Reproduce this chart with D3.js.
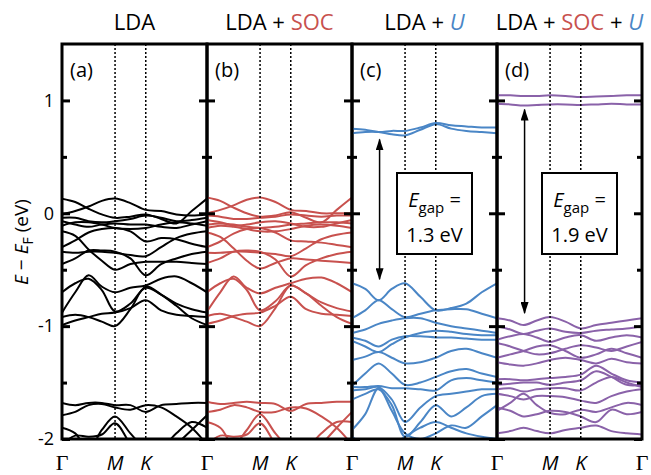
<!DOCTYPE html>
<html>
<head>
<meta charset="utf-8">
<script src="https://cdn.jsdelivr.net/npm/d3@7"></script>
<style>
body { margin: 0; background: #fff; }
text { font-family: "Open Sans", sans-serif; fill: #000; }
</style>
</head>
<body>
<div id="chart"></div>
<script>
// k-path Γ - M - K - Γ (hexagonal BZ, distances in 2π/a)
var kPoints = [0, 0.144, 0.289, 0.433, 0.577, 0.744, 0.911, 1.078, 1.244, 1.411, 1.577];
var kTicks = [0, 0.577, 0.911, 1.577];
var kLabels = ["Γ", "M", "K", "Γ"];
var yTicks = [-2, -1, 0, 1];
var yMinor = [-1.5, -0.5, 0.5];
var panelLetters = ["(a)", "(b)", "(c)", "(d)"];
var gapLabels = [null, null, "1.3 eV", "1.9 eV"];

// band energies (eV) at kPoints
var bandsLDA = [
    [0.13, 0.10, 0.04, -0.01, -0.04, -0.03, -0.01, -0.05, -0.09, 0.02, 0.13],
    [-0.01, 0.02, 0.06, 0.11, 0.13, 0.09, 0.03, 0.02, -0.01, -0.02, -0.01],
    [-0.04, -0.04, -0.07, -0.08, -0.07, -0.05, -0.02, -0.04, -0.07, -0.06, -0.04],
    [-0.07, -0.10, -0.12, -0.10, -0.09, -0.10, -0.10, -0.12, -0.13, -0.10, -0.07],
    [-0.11, -0.08, -0.08, -0.10, -0.13, -0.14, -0.13, -0.10, -0.08, -0.09, -0.11],
    [-0.30, -0.24, -0.17, -0.14, -0.13, -0.16, -0.25, -0.22, -0.23, -0.27, -0.30],
    [-0.16, -0.20, -0.32, -0.42, -0.50, -0.45, -0.43, -0.43, -0.43, -0.44, -0.45],
    [-0.45, -0.40, -0.33, -0.33, -0.34, -0.40, -0.55, -0.45, -0.40, -0.36, -0.34],
    [-0.34, -0.35, -0.34, -0.34, -0.35, -0.37, -0.38, -0.30, -0.22, -0.18, -0.16],
    [-0.88, -0.70, -0.55, -0.65, -0.70, -0.66, -0.64, -0.58, -0.56, -0.62, -0.70],
    [-0.70, -0.62, -0.58, -0.68, -0.87, -0.80, -0.66, -0.72, -0.80, -0.85, -0.88],
    [-0.92, -0.90, -0.92, -0.96, -1.00, -0.85, -0.65, -0.72, -0.82, -0.93, -0.99],
    [-0.99, -0.95, -0.92, -0.89, -0.88, -0.84, -0.77, -0.86, -0.90, -0.91, -0.92],
    [-1.68, -1.70, -1.68, -1.68, -1.70, -1.70, -1.76, -1.70, -1.69, -1.68, -1.68],
    [-1.79, -1.76, -1.70, -1.69, -1.72, -1.74, -1.70, -1.72, -1.80, -1.90, -2.05],
    [-1.90, -1.95, -2.10, -1.92, -1.80, -1.95, -2.10, -2.20, -2.05, -1.92, -1.79],
    [-2.05, -1.97, -1.98, -1.96, -1.86, -2.05, -2.25, -2.10, -1.95, -1.85, -1.90]
];

var bandsSOC = [
    [0.14, 0.11, 0.05, 0.00, -0.03, -0.02, 0.01, -0.04, -0.08, 0.03, 0.14],
    [0.00, 0.03, 0.07, 0.12, 0.14, 0.10, 0.03, 0.02, 0.00, 0.00, 0.00],
    [-0.02, -0.03, -0.05, -0.05, -0.04, -0.03, -0.01, -0.02, -0.03, -0.02, -0.02],
    [-0.06, -0.08, -0.11, -0.10, -0.08, -0.07, -0.09, -0.12, -0.12, -0.09, -0.06],
    [-0.10, -0.09, -0.10, -0.12, -0.13, -0.12, -0.10, -0.09, -0.08, -0.08, -0.09],
    [-0.13, -0.11, -0.12, -0.14, -0.16, -0.16, -0.14, -0.11, -0.10, -0.11, -0.13],
    [-0.30, -0.25, -0.18, -0.14, -0.13, -0.17, -0.24, -0.25, -0.26, -0.28, -0.30],
    [-0.17, -0.21, -0.31, -0.42, -0.49, -0.44, -0.40, -0.41, -0.42, -0.43, -0.44],
    [-0.44, -0.40, -0.34, -0.33, -0.34, -0.41, -0.56, -0.46, -0.40, -0.36, -0.34],
    [-0.35, -0.35, -0.34, -0.34, -0.35, -0.36, -0.38, -0.31, -0.23, -0.19, -0.17],
    [-0.87, -0.70, -0.56, -0.66, -0.71, -0.66, -0.62, -0.58, -0.57, -0.62, -0.70],
    [-0.70, -0.62, -0.58, -0.68, -0.86, -0.78, -0.64, -0.71, -0.79, -0.84, -0.87],
    [-0.91, -0.89, -0.92, -0.96, -1.00, -0.84, -0.64, -0.71, -0.82, -0.92, -0.98],
    [-0.98, -0.95, -0.91, -0.89, -0.88, -0.82, -0.74, -0.85, -0.89, -0.90, -0.91],
    [-1.67, -1.69, -1.68, -1.67, -1.68, -1.69, -1.75, -1.69, -1.68, -1.67, -1.67],
    [-1.76, -1.74, -1.70, -1.72, -1.76, -1.76, -1.72, -1.73, -1.80, -1.90, -2.05],
    [-1.85, -1.90, -2.05, -1.92, -1.78, -1.95, -2.10, -2.20, -2.05, -1.90, -1.76],
    [-2.05, -1.97, -1.98, -1.96, -1.86, -2.05, -2.25, -2.10, -1.95, -1.85, -1.85]
];

var bandsU = [
    [0.75, 0.74, 0.72, 0.73, 0.73, 0.76, 0.80, 0.78, 0.77, 0.76, 0.76],
    [0.71, 0.72, 0.72, 0.70, 0.69, 0.74, 0.79, 0.75, 0.73, 0.72, 0.71],
    [-0.62, -0.67, -0.77, -0.67, -0.62, -0.74, -0.86, -0.84, -0.80, -0.70, -0.62],
    [-0.93, -0.86, -0.77, -0.85, -0.92, -0.89, -0.86, -0.85, -0.85, -0.89, -0.93],
    [-1.06, -1.03, -0.98, -0.95, -0.93, -0.93, -0.97, -1.00, -1.02, -1.04, -1.06],
    [-1.10, -1.13, -1.18, -1.12, -1.09, -1.09, -1.10, -1.10, -1.11, -1.12, -1.12],
    [-1.13, -1.18, -1.23, -1.16, -1.10, -1.06, -1.04, -1.05, -1.07, -1.08, -1.08],
    [-1.30, -1.27, -1.23, -1.28, -1.33, -1.32, -1.28, -1.22, -1.20, -1.24, -1.28],
    [-1.53, -1.42, -1.33, -1.42, -1.52, -1.50, -1.45, -1.40, -1.38, -1.42, -1.45],
    [-1.54, -1.54, -1.53, -1.55, -1.55, -1.56, -1.57, -1.48, -1.46, -1.48, -1.50],
    [-1.57, -1.56, -1.54, -1.65, -1.85, -1.72, -1.62, -1.60, -1.58, -1.56, -1.56],
    [-1.65, -1.60, -1.56, -1.70, -1.98, -1.85, -1.70, -1.80, -1.72, -1.62, -1.60],
    [-1.92, -1.78, -1.55, -1.75, -1.95, -2.00, -1.95, -1.88, -1.90, -1.80, -1.70],
    [-1.98, -2.05, -2.10, -2.05, -1.98, -1.90, -1.85, -1.90, -1.95, -1.98, -2.00]
];

var bandsSOCU = [
    [1.045, 1.045, 1.04, 1.04, 1.045, 1.04, 1.03, 1.035, 1.04, 1.045, 1.045],
    [0.97, 0.965, 0.955, 0.96, 0.965, 0.965, 0.96, 0.965, 0.97, 0.965, 0.965],
    [-0.93, -0.95, -0.99, -0.95, -0.92, -0.96, -1.02, -0.99, -0.97, -0.95, -0.93],
    [-1.00, -1.03, -1.07, -1.04, -1.02, -1.05, -1.06, -1.04, -1.03, -1.02, -1.00],
    [-1.12, -1.09, -1.07, -1.10, -1.14, -1.10, -1.08, -1.13, -1.10, -1.08, -1.10],
    [-1.15, -1.18, -1.22, -1.25, -1.24, -1.20, -1.17, -1.19, -1.22, -1.18, -1.14],
    [-1.28, -1.25, -1.22, -1.18, -1.17, -1.22, -1.28, -1.25, -1.20, -1.24, -1.28],
    [-1.32, -1.34, -1.35, -1.33, -1.30, -1.28, -1.30, -1.33, -1.29, -1.32, -1.33],
    [-1.47, -1.47, -1.48, -1.47, -1.46, -1.45, -1.43, -1.35, -1.42, -1.48, -1.50],
    [-1.52, -1.51, -1.50, -1.50, -1.52, -1.50, -1.48, -1.40, -1.45, -1.52, -1.52],
    [-1.56, -1.55, -1.58, -1.56, -1.55, -1.55, -1.57, -1.50, -1.45, -1.50, -1.54],
    [-1.60, -1.62, -1.65, -1.62, -1.62, -1.63, -1.66, -1.68, -1.62, -1.58, -1.56],
    [-1.75, -1.68, -1.60, -1.70, -1.77, -1.78, -1.74, -1.76, -1.72, -1.68, -1.70],
    [-1.72, -1.75, -1.80, -1.78, -1.75, -1.76, -1.80, -1.85, -1.74, -1.78, -1.76],
    [-1.95, -1.93, -1.90, -1.93, -1.95, -1.92, -1.90, -1.88, -1.93, -1.95, -1.96]
];

var panels = [
    { bands: bandsLDA, color: "#000000", nCond: 0 },
    { bands: bandsSOC, color: "#c8514e", nCond: 0 },
    { bands: bandsU, color: "#4a86c6", nCond: 2 },
    { bands: bandsSOCU, color: "#8a62a9", nCond: 2 }
];

var width = 651, height = 475;
var plotLeft = 62, pw = 145, plotTop = 44, plotBottom = 439;
var red = "#c8514e", blue = "#4a86c6";

var svg = d3.select("#chart").append("svg")
    .attr("width", width)
    .attr("height", height);

var defs = svg.append("defs");
defs.append("marker")
    .attr("id", "head")
    .attr("viewBox", "0 0 12 8")
    .attr("refX", 11)
    .attr("refY", 4)
    .attr("markerWidth", 12)
    .attr("markerHeight", 8)
    .attr("markerUnits", "userSpaceOnUse")
    .attr("orient", "auto-start-reverse")
    .append("path")
    .attr("d", "M0,0 L12,4 L0,8 Z")
    .attr("fill", "#000");

var x = d3.scaleLinear().domain([0, 1.577]).range([0, pw]);
var y = d3.scaleLinear().domain([-2, 1.5]).range([plotBottom, plotTop]);

var line = d3.line()
    .x(function (d, i) { return x(kPoints[i]); })
    .y(function (d) { return y(d); })
    .curve(d3.curveCatmullRom.alpha(0.5));

panels.forEach(function (p, i) {
    var g = svg.append("g").attr("transform", "translate(" + (plotLeft + i * pw) + ",0)");

    defs.append("clipPath").attr("id", "clip" + i)
        .append("rect")
        .attr("x", 0).attr("y", plotTop)
        .attr("width", pw).attr("height", plotBottom - plotTop);

    // bands
    g.append("g").attr("clip-path", "url(#clip" + i + ")")
        .selectAll("path")
        .data(p.bands)
        .enter()
        .append("path")
        .attr("d", line)
        .attr("fill", "none")
        .attr("stroke", p.color)
        .attr("stroke-width", 2);

    // dotted lines at M and K
    g.selectAll(".hs")
        .data(kTicks.slice(1, 3))
        .enter()
        .append("line")
        .attr("x1", function (d) { return x(d); })
        .attr("x2", function (d) { return x(d); })
        .attr("y1", plotTop)
        .attr("y2", plotBottom)
        .attr("stroke", "#000")
        .attr("stroke-width", 1.5)
        .attr("stroke-dasharray", "2,2");

    // gap arrow + box
    if (p.nCond > 0) {
        var cbm = d3.min(p.bands.slice(0, p.nCond), function (b) { return d3.min(b); });
        var vbm = d3.max(p.bands.slice(p.nCond), function (b) { return d3.max(b); });
        var ax = x(kPoints[2]) + 1;
        g.append("line")
            .attr("x1", ax).attr("x2", ax)
            .attr("y1", y(cbm) + 4).attr("y2", y(vbm) - 4)
            .attr("stroke", "#000")
            .attr("stroke-width", 1.5)
            .attr("marker-start", "url(#head)")
            .attr("marker-end", "url(#head)");

        g.append("rect")
            .attr("x", 45).attr("y", 173)
            .attr("width", 75).attr("height", 81)
            .attr("fill", "#fff")
            .attr("stroke", "#000")
            .attr("stroke-width", 2);
        var t1 = g.append("text")
            .attr("x", 82.5).attr("y", 207)
            .attr("text-anchor", "middle")
            .style("font-size", "20px");
        t1.append("tspan").style("font-style", "italic").text("E");
        t1.append("tspan").attr("dy", 6).style("font-size", "15px").text("gap");
        t1.append("tspan").attr("dy", -6).text(" =");
        g.append("text")
            .attr("x", 82.5).attr("y", 242)
            .attr("text-anchor", "middle")
            .style("font-size", "20px")
            .text(gapLabels[i]);
    }

    // ticks, both sides, pointing inward
    var axL = g.append("g").call(d3.axisLeft(y).tickValues(yTicks).tickSize(-8).tickPadding(8)
        .tickFormat(i === 0 ? function (d) { return String(d); } : ""));
    var axLm = g.append("g").call(d3.axisLeft(y).tickValues(yMinor).tickSize(-5).tickFormat(""));
    var axR = g.append("g").attr("transform", "translate(" + pw + ",0)")
        .call(d3.axisRight(y).tickValues(yTicks).tickSize(-8).tickFormat(""));
    var axRm = g.append("g").attr("transform", "translate(" + pw + ",0)")
        .call(d3.axisRight(y).tickValues(yMinor).tickSize(-5).tickFormat(""));
    [axL, axLm, axR, axRm].forEach(function (a) {
        a.select(".domain").remove();
        a.selectAll(".tick line").attr("stroke", "#000").attr("stroke-width", 3);
        a.selectAll("text").style("font-size", "18px").style("font-family", "Open Sans, sans-serif");
    });

    // frame
    g.append("rect")
        .attr("x", 0).attr("y", plotTop)
        .attr("width", pw).attr("height", plotBottom - plotTop)
        .attr("fill", "none")
        .attr("stroke", "#000")
        .attr("stroke-width", 3);

    // panel letter
    g.append("text")
        .attr("x", 8).attr("y", 77)
        .style("font-size", "20px")
        .text(panelLetters[i]);

    // k labels
    g.selectAll(".klab")
        .data(kTicks.map(function (k, j) { return { k: k, lab: kLabels[j] }; })
            .filter(function (d, j) { return i === 0 || j > 0; }))
        .enter()
        .append("text")
        .attr("x", function (d) { return x(d.k); })
        .attr("y", 470)
        .attr("text-anchor", "middle")
        .style("font-size", function (d) { return d.lab === "Γ" ? "22px" : "20px"; })
        .style("font-family", function (d) { return d.lab === "Γ" ? "Liberation Serif, serif" : "Open Sans, sans-serif"; })
        .style("font-style", function (d) { return d.lab === "Γ" ? "normal" : "italic"; })
        .text(function (d) { return d.lab; });
});

// titles
var titleParts = [
    [["LDA", "#000", "normal"]],
    [["LDA + ", "#000", "normal"], ["SOC", red, "normal"]],
    [["LDA + ", "#000", "normal"], ["U", blue, "italic"]],
    [["LDA + ", "#000", "normal"], ["SOC", red, "normal"], [" + ", "#000", "normal"], ["U", blue, "italic"]]
];
titleParts.forEach(function (parts, i) {
    var t = svg.append("text")
        .attr("x", plotLeft + i * pw + pw / 2)
        .attr("y", 30)
        .attr("text-anchor", "middle")
        .style("font-size", "22px")
        .style("white-space", "pre");
    parts.forEach(function (p) {
        t.append("tspan").style("fill", p[1]).style("font-style", p[2]).text(p[0]);
    });
});

// y label
var yl = svg.append("text")
    .attr("transform", "translate(28,242) rotate(-90)")
    .attr("text-anchor", "middle")
    .style("font-size", "19px");
yl.append("tspan").style("font-style", "italic").text("E");
yl.append("tspan").text(" − ");
yl.append("tspan").style("font-style", "italic").text("E");
yl.append("tspan").attr("dy", 5).style("font-size", "14px").text("F");
yl.append("tspan").attr("dy", -5).text(" (eV)");
</script>
</body>
</html>
